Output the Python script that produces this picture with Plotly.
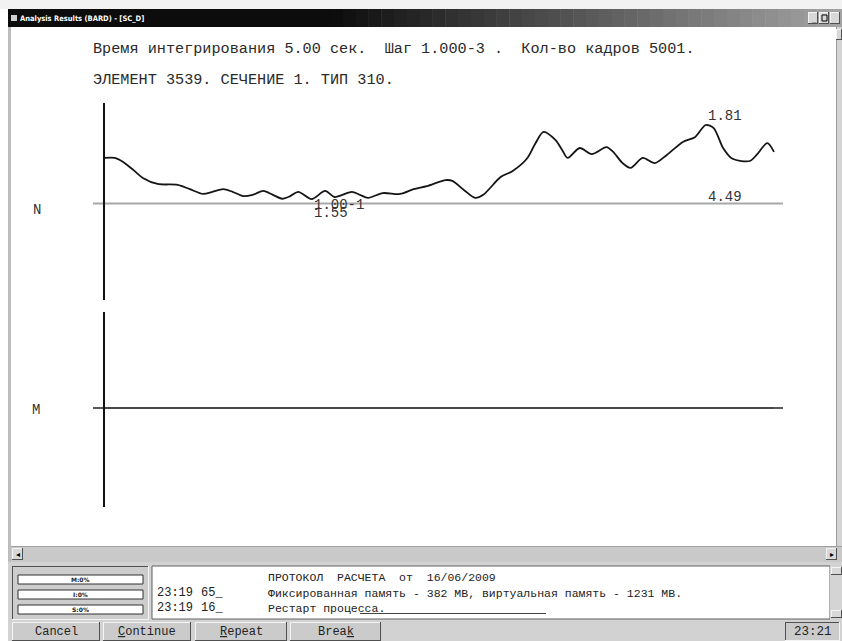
import plotly.graph_objects as go

W, H = 842, 641

# ---- data: internal force N over integration time ----
n_time = [0.00, 0.08, 0.14, 0.22, 0.29, 0.40, 0.55, 0.64, 0.74, 0.81, 0.89, 0.96,
          1.04, 1.11, 1.19, 1.26, 1.33, 1.39, 1.45, 1.55, 1.65, 1.72, 1.78, 1.85,
          1.91, 1.97, 2.08, 2.21, 2.31, 2.41, 2.55, 2.60, 2.69, 2.77, 2.83, 2.96,
          3.05, 3.16, 3.22, 3.28, 3.37, 3.42, 3.46, 3.55, 3.64, 3.75, 3.80, 3.87,
          3.93, 4.02, 4.11, 4.20, 4.32, 4.41, 4.49, 4.55, 4.62, 4.69, 4.82, 4.87,
          4.95, 5.00]
n_value = [1.05, 1.05, 0.96, 0.77, 0.59, 0.45, 0.43, 0.33, 0.22, 0.27, 0.33, 0.27,
           0.17, 0.20, 0.29, 0.20, 0.11, 0.17, 0.27, 0.10, 0.29, 0.15, 0.20, 0.27,
           0.20, 0.13, 0.24, 0.22, 0.33, 0.40, 0.54, 0.52, 0.30, 0.13, 0.20, 0.61,
           0.75, 1.05, 1.39, 1.65, 1.46, 1.23, 1.05, 1.28, 1.14, 1.30, 1.19, 0.93,
           0.82, 1.05, 0.93, 1.12, 1.42, 1.53, 1.81, 1.74, 1.28, 1.03, 0.98, 1.12,
           1.39, 1.19]

# moment M stays zero for the whole run
m_time = [0.0, 5.0]
m_value = [0.0, 0.0]

header_line1 = "Время интегрирования 5.00 сек.  Шаг 1.000-3 .  Кол-во кадров 5001."
header_line2 = "ЭЛЕМЕНТ 3539. СЕЧЕНИЕ 1. ТИП 310."
log_header = "ПРОТОКОЛ  РАСЧЕТА  от  16/06/2009"
log_rows = [("23:19", "65_", "Фиксированная память - 382 MB, виртуальная память - 1231 MB."),
            ("23:19", "16_", "Рестарт процесса.")]
status_labels = ["M:0%", "I:0%", "S:0%"]
buttons = ["Cancel", "<u>C</u>ontinue", "<u>R</u>epeat", "Brea<u>k</u>"]
clock = "23:21"

MONO = "Liberation Mono, Courier New, monospace"

def fx(x):
    return x / W

def fy(y):
    return 1 - y / H

shapes = []
annotations = []

def rect(x0, y0, x1, y1, fill, line=None, lw=0):
    shapes.append(dict(type="rect", xref="paper", yref="paper",
                       x0=fx(x0), x1=fx(x1), y0=fy(y1), y1=fy(y0),
                       fillcolor=fill, layer="below",
                       line=dict(width=lw, color=line or fill)))

def hline(x0, x1, y, color, w=1, layer="below"):
    shapes.append(dict(type="line", xref="paper", yref="paper",
                       x0=fx(x0), x1=fx(x1), y0=fy(y), y1=fy(y),
                       line=dict(color=color, width=w), layer=layer))

def vline(x, y0, y1, color, w=1, layer="below"):
    shapes.append(dict(type="line", xref="paper", yref="paper",
                       x0=fx(x), x1=fx(x), y0=fy(y0), y1=fy(y1),
                       line=dict(color=color, width=w), layer=layer))

def bevel(x0, y0, x1, y1, fill="#cfcfcf", raised=True):
    rect(x0, y0, x1, y1, fill)
    light, dark = ("#f4f4f4", "#505050") if raised else ("#505050", "#f4f4f4")
    hline(x0, x1, y0 + 0.5, light)
    vline(x0 + 0.5, y0, y1, light)
    hline(x0, x1, y1 - 0.5, dark)
    vline(x1 - 0.5, y0, y1, dark)

def text(x, y, s, size=12, color="#222", family=MONO, anchor="left", bold=False):
    if bold:
        s = "<b>" + s + "</b>"
    annotations.append(dict(xref="paper", yref="paper", x=fx(x), y=fy(y), text=s,
                            showarrow=False, xanchor=anchor, yanchor="middle",
                            font=dict(size=size, color=color, family=family),
                            borderpad=0))

# ---- window frame ----
rect(0, 0, W, 9, "#f2f2f2")
# title bar gradient: black on the left fading to grey on the right
steps = 40
x_start, x_end = 330, W
rect(8, 9, x_start, 27, "#0c0c0c")
for i in range(steps):
    a = x_start + (x_end - x_start) * i / steps
    b = x_start + (x_end - x_start) * (i + 1) / steps + 0.5
    t = (i + 0.5) / steps
    g = int(12 + (165 - 12) * t)
    rect(a, 9, b, 27, f"rgb({g},{g},{g})")
rect(11, 15, 17, 21, "#d0d0d0")
text(19, 18, "Analysis Results (BARD) - [SC_D]", size=7.5, color="#ffffff",
     family="Liberation Sans Narrow, DejaVu Sans Condensed, Arial", bold=True)
for bx in (808, 819, 830):
    bevel(bx, 12, bx + 10, 24, fill="#d8d8d8")
text(810, 19, "_", size=8, color="#000", family="Arial", bold=True)
rect(822, 15, 827, 21, "#d8d8d8", line="#000", lw=1)

# side borders and content area
rect(8, 27, 11, 563, "#bdbdbd")
rect(11, 27, 836, 546, "#ffffff")
rect(836, 27, 842, 546, "#d4d4d4")
vline(836.5, 27, 546, "#9a9a9a")
bevel(836, 29, 842, 40, fill="#d8d8d8")

# horizontal scrollbar
rect(11, 546, 842, 562, "#c9c9c9")
hline(11, 842, 546.5, "#a0a0a0")
bevel(12, 548, 23, 560, fill="#d8d8d8")
bevel(826, 548, 837, 560, fill="#d8d8d8")
text(17.5, 554, "◂", size=8, color="#000", family="DejaVu Sans", anchor="center")
text(831.5, 554, "▸", size=8, color="#000", family="DejaVu Sans", anchor="center")

# bottom panel
rect(8, 562, W, 641, "#d2d2d2")
bevel(12, 566, 149, 620, fill="#cdcdcd", raised=False)
for i, lab in enumerate(status_labels):
    y0 = 575 + i * 15
    rect(18, y0, 143, y0 + 9, "#ffffff", line="#303030", lw=1)
    text(80.5, y0 + 4.8, lab, size=6, color="#222", family="DejaVu Sans", anchor="center", bold=True)

# protocol log box
rect(152, 566, 830, 619, "#ffffff", line="#606060", lw=1)
rect(830, 566, 842, 619, "#d4d4d4")
bevel(831, 567, 842, 575, fill="#d8d8d8")
bevel(831, 610, 842, 618, fill="#d8d8d8")
text(267, 577, log_header, size=11.5, color="#222")
for i, (tm, code, msg) in enumerate(log_rows):
    yy = 593 + i * 15
    text(156, yy, tm, size=12, color="#222")
    text(200, yy, code, size=12, color="#222")
    text(267, yy, msg, size=11.5, color="#222")
hline(360, 546, 613.5, "#444")

# buttons
button_x = [(12, 100), (103, 191), (195, 287), (290, 381)]
for (x0, x1), lab in zip(button_x, buttons):
    bevel(x0, 622, x1, 641, fill="#cbcbcb")
    text((x0 + x1) / 2, 632, lab, size=12, color="#222", anchor="center")
bevel(785, 622, 840, 641, fill="#cbcbcb", raised=False)
text(812.5, 632, clock, size=12.5, color="#222", anchor="center")

# ---- chart headers ----
text(92, 49, header_line1, size=15.2, color="#2a2a2a")
text(92, 80, header_line2, size=15.2, color="#2a2a2a")
text(32, 210, "N", size=14, color="#333")
text(31, 410, "M", size=14, color="#333")

# axis frames for the two diagrams (t = 0 at x = 104 px, 134 px per second)
PX_PER_S = 134.0
PX_PER_UNIT = 43.37
X0_PX, X_END_PX = 93, 783
x_range = [(X0_PX - 104) / PX_PER_S, (X_END_PX - 104) / PX_PER_S]

n_top, n_bot, n_zero = 100, 300, 203.5
m_top, m_bot, m_zero = 310, 510, 408.0

# baselines and vertical axes
hline(X0_PX, X_END_PX, n_zero, "#a8a8a8", w=2)
hline(X0_PX, X_END_PX, m_zero, "#5a5a5a", w=2)
vline(104, 103, 300, "#111", w=2, layer="above")
vline(104, 312, 507, "#111", w=2, layer="above")

fig = go.Figure()
fig.add_trace(go.Scatter(x=n_time, y=n_value, mode="lines",
                         line=dict(color="#151515", width=1.8, shape="spline", smoothing=0.8),
                         xaxis="x", yaxis="y", hoverinfo="skip", showlegend=False))
fig.add_trace(go.Scatter(x=m_time, y=m_value, mode="lines",
                         line=dict(color="#444444", width=1.6),
                         xaxis="x2", yaxis="y2", hoverinfo="skip", showlegend=False))

# extreme values of N
i_max = n_value.index(max(n_value))
i_min = n_value.index(min(n_value))
t_max, v_max = n_time[i_max], n_value[i_max]
t_min, v_min = n_time[i_min], n_value[i_min]
lab_font = dict(size=14, color="#333", family=MONO)
annotations += [
    dict(xref="x", yref="y", x=t_max, y=v_max, text=f"{v_max:.2f}", showarrow=False,
         xanchor="left", yanchor="middle", yshift=9, font=lab_font),
    dict(xref="x", yref="y", x=t_max, y=0, text=f"{t_max:.2f}", showarrow=False,
         xanchor="left", yanchor="middle", yshift=7, font=lab_font),
    dict(xref="x", yref="y", x=t_min, y=0, text=f"{v_min * 10:.2f}-1", showarrow=False,
         xanchor="left", yanchor="middle", yshift=-1, font=lab_font),
    dict(xref="x", yref="y", x=t_min, y=0, text=f"{t_min:.2f}", showarrow=False,
         xanchor="left", yanchor="middle", yshift=-9, font=lab_font),
]

def yrange(top, bot, zero):
    return [(zero - bot) / PX_PER_UNIT, (zero - top) / PX_PER_UNIT]

hidden = dict(visible=False, showgrid=False, zeroline=False, fixedrange=True)
fig.update_layout(
    width=W, height=H, autosize=False,
    margin=dict(l=0, r=0, t=0, b=0, pad=0),
    paper_bgcolor="#ffffff", plot_bgcolor="rgba(0,0,0,0)",
    showlegend=False,
    xaxis=dict(domain=[fx(X0_PX), fx(X_END_PX)], range=x_range, **hidden),
    yaxis=dict(domain=[fy(n_bot), fy(n_top)], range=yrange(n_top, n_bot, n_zero), **hidden),
    xaxis2=dict(domain=[fx(X0_PX), fx(X_END_PX)], range=x_range, anchor="y2", **hidden),
    yaxis2=dict(domain=[fy(m_bot), fy(m_top)], range=yrange(m_top, m_bot, m_zero), anchor="x2", **hidden),
    shapes=shapes,
    annotations=annotations,
)

fig.write_html("out.html", config=dict(displayModeBar=False, staticPlot=True))
